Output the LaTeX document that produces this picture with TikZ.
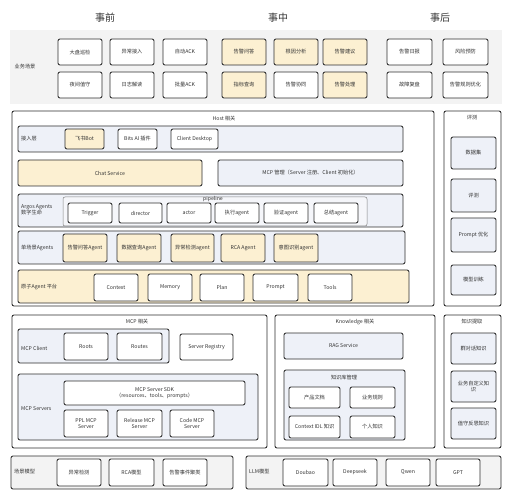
\documentclass[tikz,border=0pt]{standalone}
\usepackage{fontspec}
\setmainfont{Noto Sans CJK SC}
\definecolor{yfill}{HTML}{FCF0D2}
\definecolor{bfill}{HTML}{EEF1F8}
\definecolor{pfill}{HTML}{F5F6FA}
\definecolor{gfill}{HTML}{F3F3F3}
\definecolor{lnc}{HTML}{2E2E2E}
\definecolor{txc}{HTML}{333333}
\tikzset{
  bx/.style={draw=lnc, line width=0.85pt, rounded corners=2pt, inner sep=0pt, align=center,
    font=\fontsize{5.2}{6.4}\selectfont, text=txc},
  yel/.style={bx, fill=yfill},
  wht/.style={bx, fill=white},
  blu/.style={bx, fill=bfill},
  gry/.style={bx, fill=gfill},
  pip/.style={bx, draw=lnc!60, line width=0.5pt, fill=pfill},
  outer/.style={bx, line width=0.9pt, fill=white},
  band/.style={fill=gfill, inner sep=0pt},
  lbl/.style={font=\fontsize{5.2}{6.4}\selectfont, text=txc, inner sep=0pt, align=left},
  hdr/.style={font=\fontsize{10}{12}\selectfont, text=txc, inner sep=0pt},
}
% \rb{name}{x1}{y1}{x2}{y2}{style}{text}
\newcommand{\rb}[7]{\node[#6, minimum width={(#4-#2)*1pt}, minimum height={(#5-#3)*1pt}]
  (#1) at ({(#2+#4)/2},{(#3+#5)/2}) {#7};}
\begin{document}
\begin{tikzpicture}[x=1pt,y=-1pt]
\useasboundingbox (0,0) rectangle (512,500);
% headers
\node[hdr] (h1) at (105,18) {事前};
\node[hdr] (h2) at (278,18) {事中};
\node[hdr] (h3) at (440,18) {事后};
% business scenario band
\rb{bandbg}{10}{30}{502}{104}{band}{}
\node[lbl] (bandl) at (25,67) {业务场景};
\rb{s1}{58}{39}{102}{65}{wht}{大盘巡检}
\rb{s2}{110}{39}{154}{65}{wht}{异常接入}
\rb{s3}{163}{39}{207}{65}{wht}{自动ACK}
\rb{s4}{222}{39}{266}{65}{yel}{告警问答}
\rb{s5}{274}{39}{318}{65}{yel}{根因分析}
\rb{s6}{323}{39}{367}{65}{yel}{告警建议}
\rb{s7}{387}{39}{432}{65}{wht}{告警日报}
\rb{s8}{443}{39}{488}{65}{wht}{风险预防}
\rb{t1}{58}{72}{102}{98}{wht}{夜间值守}
\rb{t2}{110}{72}{154}{98}{wht}{日志解读}
\rb{t3}{163}{72}{207}{98}{wht}{批量ACK}
\rb{t4}{222}{72}{266}{98}{yel}{指标查询}
\rb{t5}{274}{72}{318}{98}{wht}{告警协同}
\rb{t6}{323}{72}{367}{98}{yel}{告警处理}
\rb{t7}{387}{72}{432}{98}{wht}{故障复盘}
\rb{t8}{443}{72}{488}{98}{wht}{告警规则优化}
% Host
\rb{host}{12}{111}{434}{306}{outer}{}
\node[lbl] (hostl) at (224,119) {Host 相关};
\rb{jr}{18}{126}{403}{152}{blu}{}
\node[lbl, anchor=west] (jrl) at (21,139) {接入层};
\rb{j1}{65}{129}{104}{149}{yel}{飞书Bot}
\rb{j2}{118}{129}{157}{149}{wht}{Bits AI 插件}
\rb{j3}{171}{129}{218}{149}{wht}{Client Desktop}
\rb{chat}{18}{160}{202}{186}{yel}{Chat Service}
\rb{mcpm}{218}{160}{403}{186}{blu}{MCP 管理（Server 注册、Client 初始化）}
\rb{ar}{18}{194}{403}{227}{blu}{}
\node[lbl, anchor=west] (arl) at (21,210) {Argos Agents\\数字生命};
\rb{pl}{63}{197}{367}{226}{pip}{}
\node[lbl] (pll) at (213,199) {pipeline};
\rb{a1}{68}{203}{112}{223}{wht}{Trigger}
\rb{a2}{119}{203}{162}{223}{wht}{director}
\rb{a3}{167}{203}{211}{223}{wht}{actor}
\rb{a4}{215}{203}{259}{223}{wht}{执行agent}
\rb{a5}{264}{203}{308}{223}{wht}{验证agent}
\rb{a6}{314}{203}{358}{223}{wht}{总结agent}
\rb{sr}{18}{231}{405}{264}{blu}{}
\node[lbl, anchor=west] (srl) at (21,248) {单场景Agents};
\rb{g1}{63}{234}{107}{262}{yel}{告警问答Agent}
\rb{g2}{117}{234}{161}{262}{yel}{数据查询Agent}
\rb{g3}{171}{234}{214}{262}{yel}{异常检测agent}
\rb{g4}{221}{234}{265}{262}{yel}{RCA Agent}
\rb{g5}{274}{234}{318}{262}{yel}{意图识别agent}
\rb{yr}{18}{270}{409}{303}{yel}{}
\node[lbl, anchor=west] (yrl) at (21,287) {原子Agent 平台};
\rb{p1}{94}{274}{138}{301}{wht}{Context}
\rb{p2}{148}{274}{192}{301}{wht}{Memory}
\rb{p3}{200}{274}{244}{301}{wht}{Plan}
\rb{p4}{253}{274}{298}{301}{wht}{Prompt}
\rb{p5}{308}{274}{352}{301}{wht}{Tools}
% 评测
\rb{ev}{444}{111}{501}{306}{outer}{}
\node[lbl] (evl) at (472,118) {评测};
\rb{e1}{451}{137}{496}{169}{blu}{数据集}
\rb{e2}{451}{179}{496}{212}{blu}{评测}
\rb{e3}{451}{218}{496}{252}{blu}{Prompt 优化}
\rb{e4}{451}{265}{496}{295}{blu}{模型训练}
% MCP 相关
\rb{mcp}{12}{315}{267}{448}{outer}{}
\node[lbl] (mcpl) at (137,322) {MCP 相关};
\rb{mc}{18}{329}{169}{363}{blu}{}
\node[lbl, anchor=west] (mcl) at (21,348) {MCP Client};
\rb{m1}{64}{333}{108}{360}{wht}{Roots}
\rb{m2}{117}{333}{162}{360}{wht}{Routes}
\rb{m3}{180}{334}{233}{360}{wht}{Server Registry}
\rb{ms}{18}{374}{258}{440}{blu}{}
\node[lbl, anchor=west] (msl) at (21,409) {MCP Servers};
\rb{sdk}{64}{381}{245}{405}{wht}{MCP Server SDK\\（resources、tools、prompts）}
\rb{v1}{64}{410}{108}{437}{wht}{PPL MCP\\Server}
\rb{v2}{117}{410}{162}{437}{wht}{Release MCP\\Server}
\rb{v3}{170}{410}{214}{437}{wht}{Code MCP\\Server}
% Knowledge
\rb{kn}{275}{315}{435}{448}{outer}{}
\node[lbl] (knl) at (355,322) {Knowledge 相关};
\rb{rag}{284}{333}{403}{359}{blu}{RAG Service}
\rb{kb}{284}{370}{405}{440}{blu}{}
\node[lbl] (kbl) at (344,378) {知识库管理};
\rb{k1}{289}{387}{340}{408}{wht}{产品文档}
\rb{k2}{350}{387}{395}{408}{wht}{业务规则}
\rb{k3}{289}{416}{340}{438}{wht}{Context IDL 知识}
\rb{k4}{350}{416}{395}{438}{wht}{个人知识}
% 知识提取
\rb{ke}{444}{315}{501}{448}{outer}{}
\node[lbl] (kel) at (472,322) {知识提取};
\rb{x1}{451}{333}{496}{364}{blu}{群对话知识}
\rb{x2}{451}{371}{496}{402}{blu}{业务自定义知\\识}
\rb{x3}{451}{408}{496}{439}{blu}{值守反思知识}
% bottom rows
\rb{cm}{11}{456}{233}{489}{gry}{}
\node[lbl, anchor=west] (cml) at (14,472) {场景模型};
\rb{c1}{57}{459}{101}{486}{wht}{异常检测}
\rb{c2}{109}{459}{154}{486}{wht}{RCA模型}
\rb{c3}{163}{459}{207}{486}{wht}{告警事件聚类}
\rb{lm}{246}{456}{501}{489}{gry}{}
\node[lbl, anchor=west] (lml) at (249,472) {LLM模型};
\rb{l1}{283}{459}{328}{486}{wht}{Doubao}
\rb{l2}{333}{459}{377}{486}{wht}{Deepseek}
\rb{l3}{386}{459}{430}{486}{wht}{Qwen}
\rb{l4}{436}{459}{480}{486}{wht}{GPT}
\end{tikzpicture}
\end{document}
